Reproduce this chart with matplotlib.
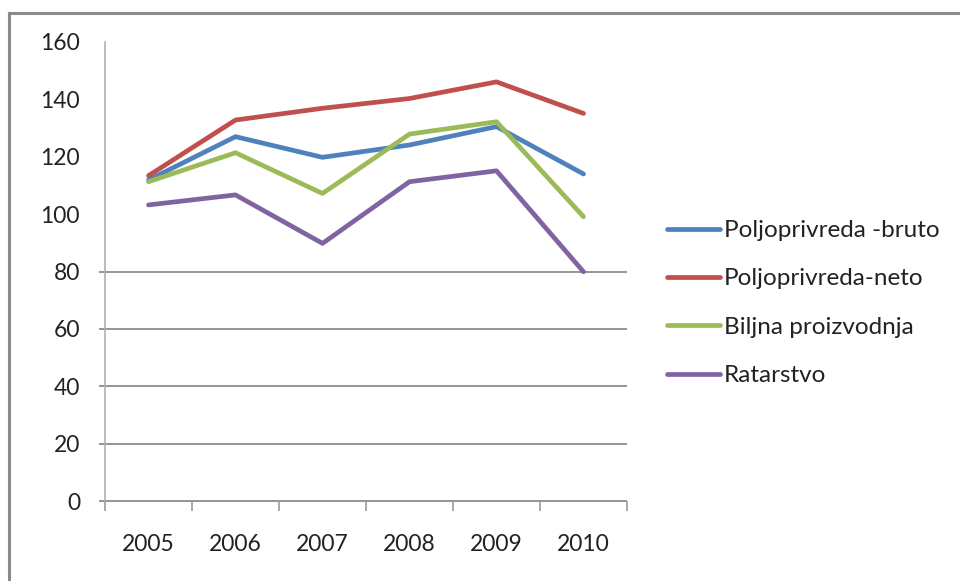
import matplotlib
matplotlib.use("Agg")
import matplotlib.pyplot as plt
from matplotlib.lines import Line2D
from matplotlib.transforms import blended_transform_factory

years = ["2005", "2006", "2007", "2008", "2009", "2010"]
bruto = [111.9, 127.0, 119.8, 124.1, 130.5, 114.0]
neto = [113.4, 132.8, 136.9, 140.3, 146.1, 135.1]
biljna = [111.3, 121.4, 107.2, 127.9, 132.2, 99.1]
ratarstvo = [103.2, 106.7, 89.8, 111.3, 115.1, 79.9]
series_names = ["Poljoprivreda -bruto", "Poljoprivreda-neto", "Biljna proizvodnja", "Ratarstvo"]
series_colors = ["#4F81BD", "#C0504D", "#9BBB59", "#8064A2"]
y_ticks = [0, 20, 40, 60, 80, 100, 120, 140, 160]
grid_values = [0, 20, 40, 60, 80]

plt.rcParams['font.family'] = ['Lato', 'DejaVu Sans']

fig = plt.figure(figsize=(9.6, 5.81), dpi=100)
ax = fig.add_axes([105/960, 1-501/581, (627-105)/960, (501-42)/581])

x = list(range(len(years)))
for vals, name, col in zip([bruto, neto, biljna, ratarstvo], series_names, series_colors):
    ax.plot(x, vals, color=col, lw=3.4, label=name, solid_capstyle='round', solid_joinstyle='round')

ax.set_xlim(-0.5, len(years) - 0.5)
ax.set_ylim(0, 160)
ax.set_yticks(y_ticks)
ax.set_yticklabels([str(v) for v in y_ticks])
ax.tick_params(axis='y', length=0, pad=18, labelsize=16.5, labelcolor='#222222')

ax.set_xticks(x)
ax.set_xticklabels(years)
ax.set_xticks([i - 0.5 for i in range(len(years) + 1)], minor=True)
ax.tick_params(axis='x', which='major', length=0, pad=24, labelsize=16.5, labelcolor='#222222')
ax.tick_params(axis='x', which='minor', length=7, width=1.2, color='#9a9a9a', direction='out')

for s in ['top', 'right', 'bottom']:
    ax.spines[s].set_visible(False)
ax.spines['left'].set_color('#b0b0b0')
ax.spines['left'].set_linewidth(1.2)

trans = blended_transform_factory(ax.transAxes, ax.transData)
for g in grid_values:
    ax.hlines(g, -0.012, 1.0, transform=trans, color='#8c8c8c', lw=1.3, clip_on=False, zorder=0.5)

leg = fig.legend(loc='upper left', bbox_to_anchor=(667/960, 1-220/581), frameon=False,
                 fontsize=17.5, handlelength=2.2, handletextpad=0.15, labelspacing=1.13,
                 borderaxespad=0, borderpad=0)
for t in leg.get_texts():
    t.set_color('#222222')

fig.add_artist(Line2D([9/960, 9/960], [0, 1-13/581], transform=fig.transFigure, color='#8a8a8a', lw=2.2))
fig.add_artist(Line2D([9/960, 1], [1-13/581, 1-13/581], transform=fig.transFigure, color='#8a8a8a', lw=2.2))

fig.savefig("out.png", dpi=100)
